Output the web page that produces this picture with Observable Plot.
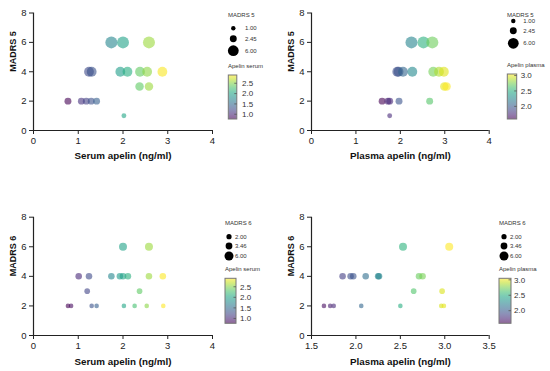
<!DOCTYPE html>
<html><head><meta charset="utf-8">
<script src="https://cdn.jsdelivr.net/npm/d3@7"></script>
<script src="https://cdn.jsdelivr.net/npm/@observablehq/plot@0.6"></script>
<style>
html,body{margin:0;padding:0;background:#fff;}
#chart{position:relative;width:550px;height:371px;overflow:hidden;font-family:"Liberation Sans",Arial,sans-serif;}
#chart svg{position:absolute;}
</style></head><body><div id="chart"></div>
<script>
// ---- data ----
const serumX5   = [1.74, 2.00, 2.58, 1.24, 1.30, 1.94, 2.10, 2.38, 2.54, 2.88, 2.37, 2.58, 0.77, 1.07, 1.18, 1.29, 1.41, 2.02];
const madrs5S   = [6, 6, 6, 4, 4, 4, 4, 4, 4, 4, 3, 3, 2, 2, 2, 2, 2, 1];
const plasmaX5  = [2.25, 2.52, 2.72, 1.93, 1.96, 2.06, 2.27, 2.74, 2.87, 2.98, 2.99, 3.04, 1.59, 1.72, 1.76, 1.97, 2.66, 1.76];
const madrs5P   = [6, 6, 6, 4, 4, 4, 4, 4, 4, 4, 3, 3, 2, 2, 2, 2, 2, 1];
const serumX6   = [2.00, 2.58, 1.01, 1.24, 1.74, 1.93, 2.00, 2.11, 2.58, 2.89, 1.20, 2.37, 0.77, 0.84, 1.30, 1.41, 2.02, 2.26, 2.53, 2.90];
const madrs6S   = [6, 6, 4, 4, 4, 4, 4, 4, 4, 4, 3, 3, 2, 2, 2, 2, 2, 2, 2, 2];
const plasmaX6  = [2.53, 3.05, 1.85, 1.94, 1.97, 2.11, 2.25, 2.26, 2.71, 2.75, 2.65, 2.97, 1.64, 1.71, 1.75, 2.06, 2.50, 2.96, 2.99];
const madrs6P   = [6, 6, 4, 4, 4, 4, 4, 4, 4, 4, 3, 3, 2, 2, 2, 2, 2, 2, 2];

const yTicks = [0, 2, 4, 6, 8];
const xTicks04 = [0, 1, 2, 3, 4];
const xTicksPlasma6 = [1.5, 2.0, 2.5, 3.0, 3.5];
const sizeLegend5 = [1.00, 2.45, 6.00];
const sizeLegend6 = [2.00, 3.46, 6.00];
const serumBarTicks = [1.0, 1.5, 2.0, 2.5];
const plasmaBarTicks = [2.0, 2.5, 3.0];

const serumDomain = d3.extent(serumX5.concat(serumX6));
const plasmaDomain = d3.extent(plasmaX5.concat(plasmaX6));

const FONT = '"Liberation Sans", Arial, Helvetica, sans-serif';
const chart = document.getElementById("chart");

function panel(cfg) {
  const data = cfg.xs.map((x, i) => ({x, y: cfg.ys[i]}));
  const p = Plot.plot({
    width: 275, height: cfg.height,
    marginTop: cfg.mt, marginBottom: cfg.mb, marginLeft: cfg.ml, marginRight: cfg.mr,
    style: {fontFamily: FONT, fontSize: "9.5px", color: "#222", background: "transparent", overflow: "visible"},
    x: {domain: cfg.xDomain},
    y: {domain: [0, 8]},
    r: {type: "sqrt", domain: [0, 6], range: [0, cfg.rMax]},
    color: {type: "linear", scheme: "viridis", domain: cfg.colorDomain},
    marks: [
      Plot.axisX({ticks: cfg.xTicks, tickSize: 4, tickPadding: 3, tickFormat: cfg.xFormat, label: null}),
      Plot.axisY({ticks: yTicks, tickSize: 4, tickPadding: 3, label: null}),
      Plot.ruleX([cfg.xDomain[0]], {stroke: "#222", strokeWidth: 1.2}),
      Plot.ruleY([0], {stroke: "#222", strokeWidth: 1.2}),
      Plot.dot(data, {x: "x", y: "y", r: "y", fill: "x", fillOpacity: 0.6}),
      Plot.text([cfg.xLabel], {frameAnchor: "bottom", dy: cfg.xLabelDy, text: d => d, fontWeight: "bold", fontSize: 9.8, lineAnchor: "middle", fill: "#111"}),
      Plot.text([cfg.yLabel], {frameAnchor: "left", dx: -20, rotate: -90, text: d => d, fontWeight: "bold", fontSize: 9, fill: "#111"})
    ]
  });
  p.style.left = cfg.left + "px";
  p.style.top = cfg.top + "px";
  chart.appendChild(p);
  return p;
}

const overlay = d3.create("svg").attr("width", 550).attr("height", 371)
  .style("left", "0px").style("top", "0px").style("pointer-events", "none")
  .attr("font-family", FONT).attr("fill", "#333");
const defs = overlay.append("defs");

function legend(p, cfg, k) {
  const rS = p.scale("r");
  const cS = p.scale("color");
  const [d0, d1] = cS.domain;
  const g = overlay.append("g");
  g.append("text").attr("x", cfg.titleX).attr("y", cfg.titleY).attr("dy", "0.35em")
    .attr("font-size", 6).text(cfg.sizeTitle);
  cfg.sizes.forEach((v, i) => {
    g.append("circle").attr("cx", cfg.dotX).attr("cy", cfg.dotYs[i])
      .attr("r", rS.apply(v) * cfg.rk).attr("fill", "#000");
    g.append("text").attr("x", cfg.labelX).attr("y", cfg.dotYs[i]).attr("dy", "0.35em")
      .attr("font-size", 6).text(d3.format(".2f")(v));
  });
  g.append("text").attr("x", cfg.titleX).attr("y", cfg.colorTitleY).attr("dy", "0.35em")
    .attr("font-size", 6).text(cfg.colorTitle);
  const grad = defs.append("linearGradient").attr("id", "grad" + k)
    .attr("x1", 0).attr("y1", 1).attr("x2", 0).attr("y2", 0);
  d3.range(0, 1.0001, 0.1).forEach(t => {
    grad.append("stop").attr("offset", t).attr("stop-color", d3.interpolateViridis(t)).attr("stop-opacity", 0.6);
  });
  g.append("rect").attr("x", cfg.barX).attr("y", cfg.barTop)
    .attr("width", cfg.barW).attr("height", cfg.barBottom - cfg.barTop)
    .attr("fill", `url(#grad${k})`).attr("stroke", "#777").attr("stroke-width", 1);
  const yv = v => cfg.barBottom - (v - d0) / (d1 - d0) * (cfg.barBottom - cfg.barTop);
  cfg.barTicks.forEach(t => {
    g.append("line").attr("x1", cfg.barX + cfg.barW - 2.5).attr("x2", cfg.barX + cfg.barW)
      .attr("y1", yv(t)).attr("y2", yv(t)).attr("stroke", "#555").attr("stroke-width", 0.8);
    g.append("text").attr("x", cfg.barLabelX).attr("y", yv(t)).attr("dy", "0.35em")
      .attr("font-size", 8).text(d3.format(".1f")(t));
  });
}

const p1 = panel({xs: serumX5, ys: madrs5S, xDomain: [0, 4], xTicks: xTicks04, xFormat: d3.format("d"),
  xLabel: "Serum apelin (ng/ml)", yLabel: "MADRS 5", colorDomain: serumDomain, rMax: 6,
  left: 0, top: 0, height: 185, mt: 12.5, mb: 55, ml: 33, mr: 63, xLabelDy: 25});
const p2 = panel({xs: plasmaX5, ys: madrs5P, xDomain: [0, 4], xTicks: xTicks04, xFormat: d3.format("d"),
  xLabel: "Plasma apelin (ng/ml)", yLabel: "MADRS 5", colorDomain: plasmaDomain, rMax: 6,
  left: 275, top: 0, height: 185, mt: 12.5, mb: 55, ml: 36, mr: 61.3, xLabelDy: 25});
const p3 = panel({xs: serumX6, ys: madrs6S, xDomain: [0, 4], xTicks: xTicks04, xFormat: d3.format("d"),
  xLabel: "Serum apelin (ng/ml)", yLabel: "MADRS 6", colorDomain: serumDomain, rMax: 4,
  left: 0, top: 185, height: 186, mt: 31.7, mb: 36, ml: 33, mr: 63, xLabelDy: 26});
const p4 = panel({xs: plasmaX6, ys: madrs6P, xDomain: [1.5, 3.5], xTicks: xTicksPlasma6, xFormat: d3.format(".1f"),
  xLabel: "Plasma apelin (ng/ml)", yLabel: "MADRS 6", colorDomain: plasmaDomain, rMax: 4,
  left: 275, top: 185, height: 186, mt: 31.7, mb: 36, ml: 36, mr: 61.3, xLabelDy: 26});

legend(p1, {sizeTitle: "MADRS 5", sizes: sizeLegend5, titleX: 228, titleY: 15, dotX: 233.3, dotYs: [28.3, 38.7, 50.7],
  labelX: 245, rk: 0.9, colorTitle: "Apelin serum", colorTitleY: 65.7, barX: 228.3, barW: 8.5, barTop: 75, barBottom: 119,
  barTicks: serumBarTicks, barLabelX: 242}, 1);
legend(p2, {sizeTitle: "MADRS 5", sizes: sizeLegend5, titleX: 507, titleY: 15, dotX: 513.3, dotYs: [21, 30.7, 43.3],
  labelX: 523.3, rk: 0.9, colorTitle: "Apelin plasma", colorTitleY: 65, barX: 507.3, barW: 9.4, barTop: 74, barBottom: 119,
  barTicks: plasmaBarTicks, barLabelX: 520.7}, 2);
legend(p3, {sizeTitle: "MADRS 6", sizes: sizeLegend6, titleX: 225, titleY: 223.3, dotX: 229, dotYs: [236.7, 246, 256],
  labelX: 235, rk: 1.12, colorTitle: "Apelin serum", colorTitleY: 269.3, barX: 225, barW: 11, barTop: 278.3, barBottom: 323.3,
  barTicks: serumBarTicks, barLabelX: 240}, 3);
legend(p4, {sizeTitle: "MADRS 6", sizes: sizeLegend6, titleX: 499, titleY: 223.3, dotX: 504, dotYs: [236.7, 246, 256],
  labelX: 510, rk: 1.12, colorTitle: "Apelin plasma", colorTitleY: 269.3, barX: 499, barW: 12, barTop: 278.3, barBottom: 323.3,
  barTicks: plasmaBarTicks, barLabelX: 514}, 4);

chart.appendChild(overlay.node());
</script></body></html>
